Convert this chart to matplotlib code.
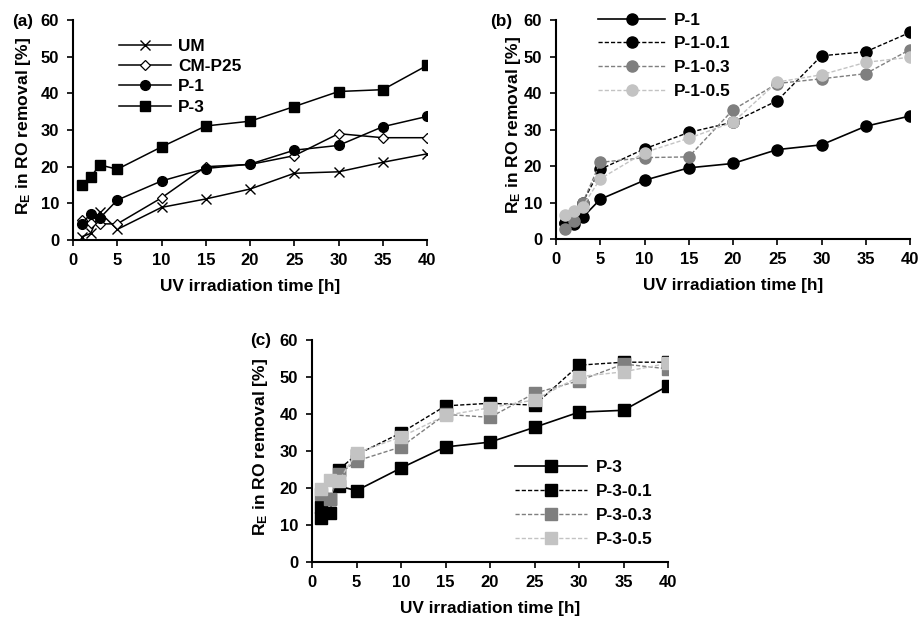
import matplotlib
matplotlib.use('Agg')
import matplotlib.pyplot as plt

plt.rcParams['font.family'] = ['Liberation Sans', 'DejaVu Sans']
plt.rcParams['font.weight'] = 'bold'
plt.rcParams['mathtext.fontset'] = 'custom'
plt.rcParams['mathtext.rm'] = 'Liberation Sans:bold'
plt.rcParams['mathtext.default'] = 'rm'

# UV irradiation time [h]
hours = [1, 2, 3, 5, 10, 15, 20, 25, 30, 35, 40]

# panel (a)
um = [0.9, 1.8, 7.6, 2.9, 8.9, 11.2, 13.9, 18.2, 18.6, 21.2, 23.5]
cm_p25 = [5.5, 4.7, 4.4, 4.4, 11.5, 20.0, 20.6, 23.0, 29.0, 27.9, 27.9]
p1 = [4.4, 7.2, 5.9, 10.9, 16.1, 19.5, 20.7, 24.5, 25.8, 30.9, 33.7]
p3 = [14.9, 17.1, 20.5, 19.3, 25.4, 31.1, 32.4, 36.4, 40.5, 41.0, 47.6]

# panel (b)
p1_01 = [4.5, 4.0, 10.0, 19.1, 24.7, 29.2, 32.0, 37.9, 50.2, 51.3, 56.6]
p1_03 = [2.8, 5.0, 9.8, 21.0, 22.3, 22.5, 35.4, 42.6, 43.9, 45.3, 51.9]
p1_05 = [6.6, 7.8, 8.9, 16.5, 23.7, 27.6, 32.0, 43.0, 45.0, 48.4, 49.8]

# panel (c)
p3_01 = [12.0, 13.3, 25.0, 29.0, 34.9, 42.2, 42.9, 42.4, 53.2, 54.0, 54.0]
p3_03 = [18.3, 16.9, 23.7, 27.3, 31.1, 39.9, 39.1, 45.6, 49.0, 53.5, 52.2]
p3_05 = [19.7, 22.1, 21.9, 29.5, 33.8, 39.6, 41.7, 43.8, 50.1, 51.4, 53.7]

xticks = [0, 5, 10, 15, 20, 25, 30, 35, 40]
yticks = [0, 10, 20, 30, 40, 50, 60]

FS = 12
GRAY = '#7f7f7f'
LIGHT = '#c3c3c3'

fig = plt.figure(figsize=(9.21, 6.21), dpi=100)
ax_a = fig.add_axes([0.0793, 0.6135, 0.3844, 0.3543])
ax_b = fig.add_axes([0.6037, 0.6151, 0.3844, 0.3527])
ax_c = fig.add_axes([0.3388, 0.0950, 0.3865, 0.3575])


def style(ax, ylab_x):
    ax.set_xlim(0, 40)
    ax.set_ylim(0, 60)
    ax.set_xticks(xticks)
    ax.set_yticks(yticks)
    for s in ('top', 'right'):
        ax.spines[s].set_visible(False)
    for s in ('left', 'bottom'):
        ax.spines[s].set_linewidth(1.5)
    ax.tick_params(direction='out', length=4, width=1.2, labelsize=FS)
    ax.tick_params(axis='x', pad=5)
    ax.tick_params(axis='y', pad=6)
    for lab in ax.get_xticklabels() + ax.get_yticklabels():
        lab.set_fontweight('bold')
    ax.set_xlabel('UV irradiation time [h]', fontsize=12.4, fontweight='bold', labelpad=8)
    ax.set_ylabel(r'R$_\mathrm{E}$ in RO removal [%]', fontsize=12.6, fontweight='bold')
    ax.yaxis.set_label_coords(ylab_x, 0.52)


# (a)
ax_a.plot(hours, um, color='black', lw=1.1, marker='x', ms=6.5, mew=1.0, label='UM')
ax_a.plot(hours, cm_p25, color='black', lw=1.1, marker='D', ms=4.8, mfc='white', mew=0.9, label='CM-P25')
ax_a.plot(hours, p1, color='black', lw=1.1, marker='o', ms=7, label='P-1')
ax_a.plot(hours, p3, color='black', lw=1.1, marker='s', ms=7, label='P-3')
style(ax_a, -0.112)
ax_a.legend(loc='upper left', bbox_to_anchor=(0.11, 0.945), frameon=False, fontsize=12.4,
            handlelength=3.0, labelspacing=0.3, handletextpad=0.45, borderaxespad=0)

# (b)
ax_b.plot(hours, p1, color='black', lw=1.2, marker='o', ms=8, label='P-1')
ax_b.plot(hours, p1_01, color='black', lw=1.0, ls='--', dashes=(3, 1.5), marker='o', ms=8, label='P-1-0.1')
ax_b.plot(hours, p1_03, color=GRAY, lw=1.0, ls='--', dashes=(3, 1.5), marker='o', ms=8, label='P-1-0.3')
ax_b.plot(hours, p1_05, color=LIGHT, lw=1.0, ls='--', dashes=(3, 1.5), marker='o', ms=8, label='P-1-0.5')
style(ax_b, -0.094)
ax_b.legend(loc='upper left', bbox_to_anchor=(0.1, 1.065), frameon=False, fontsize=12.4,
            handlelength=3.9, labelspacing=0.5, handletextpad=0.5, borderaxespad=0)

# (c)
ax_c.plot(hours, p3, color='black', lw=1.2, marker='s', ms=8, label='P-3')
ax_c.plot(hours, p3_01, color='black', lw=1.0, ls='--', dashes=(3, 1.5), marker='s', ms=8, label='P-3-0.1')
ax_c.plot(hours, p3_03, color=GRAY, lw=1.0, ls='--', dashes=(3, 1.5), marker='s', ms=8, label='P-3-0.3')
ax_c.plot(hours, p3_05, color=LIGHT, lw=1.0, ls='--', dashes=(3, 1.5), marker='s', ms=8, label='P-3-0.5')
style(ax_c, -0.118)
ax_c.legend(loc='upper left', bbox_to_anchor=(0.55, 0.49), frameon=False, fontsize=12.4,
            handlelength=4.2, labelspacing=0.52, handletextpad=0.5, borderaxespad=0)

fig.text(0.013, 0.966, '(a)', fontsize=12.4, fontweight='bold', va='center')
fig.text(0.532, 0.966, '(b)', fontsize=12.4, fontweight='bold', va='center')
fig.text(0.272, 0.451, '(c)', fontsize=12.4, fontweight='bold', va='center')

fig.savefig('out.png', dpi=100)
